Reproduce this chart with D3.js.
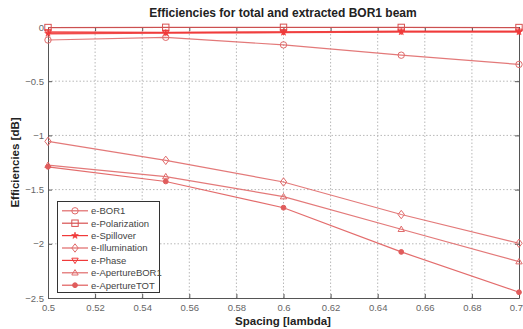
<!DOCTYPE html>
<html>
<head>
<meta charset="utf-8">
<script src="https://cdn.jsdelivr.net/npm/d3@7"></script>
<style>
  html, body { margin: 0; padding: 0; background: #fff; }
  svg { display: block; font-family: "Liberation Sans", Arial, sans-serif; }
</style>
</head>
<body>
<svg id="chart" width="523" height="329"></svg>
<script>
// Antenna element spacing (wavelengths) and efficiency curves in dB
const spacing = [0.5, 0.55, 0.6, 0.65, 0.7];
const seriesNames = ["e-BOR1", "e-Polarization", "e-Spillover", "e-Illumination", "e-Phase", "e-ApertureBOR1", "e-ApertureTOT"];
const eBOR1         = [-0.12, -0.095, -0.165, -0.26, -0.345];
const ePolarization = [-0.005, -0.003, -0.003, -0.004, -0.005];
const eSpillover    = [-0.06, -0.055, -0.05, -0.045, -0.045];
const eIllumination = [-1.055, -1.23, -1.43, -1.73, -1.995];
const ePhase        = [-0.045, -0.05, -0.045, -0.04, -0.04];
const eApertureBOR1 = [-1.275, -1.38, -1.565, -1.866, -2.165];
const eApertureTOT  = [-1.29, -1.425, -1.667, -2.075, -2.447];
const xTicks = [0.5, 0.52, 0.54, 0.56, 0.58, 0.6, 0.62, 0.64, 0.66, 0.68, 0.7];
const yTicks = [0, -0.5, -1, -1.5, -2, -2.5];

const seriesValues = [eBOR1, ePolarization, eSpillover, eIllumination, ePhase, eApertureBOR1, eApertureTOT];
const markers = ["circle", "square", "star", "diamond", "tridown", "triup", "dot"];
const colors = ["#e06a6a", "#d85050", "#f03a3a", "#e06a6a", "#f03a3a", "#e06a6a", "#e05c5c"];
const widths = [1.2, 1.3, 1.8, 1.2, 1.5, 1.2, 1.2];

const svg = d3.select("#chart");
const m = { left: 48, right: 4, top: 27, bottom: 31 };
const W = 523, H = 329;
const x = d3.scaleLinear().domain([0.5, 0.7]).range([m.left, W - m.right]);
const y = d3.scaleLinear().domain([-2.5, 0]).range([H - m.bottom, m.top]);

// dotted grid
const grid = svg.append("g").attr("stroke", "#b8b8b8").attr("stroke-dasharray", "1.5,2").attr("stroke-width", 1);
xTicks.slice(1, -1).forEach(t => grid.append("line").attr("x1", x(t)).attr("x2", x(t)).attr("y1", y(-2.5)).attr("y2", y(0)));
yTicks.slice(1, -1).forEach(t => grid.append("line").attr("x1", x(0.5)).attr("x2", x(0.7)).attr("y1", y(t)).attr("y2", y(t)));

// axes with inward ticks
const fmt = d => d3.format("~g")(d);
const xAxis = svg.append("g").attr("transform", `translate(0,${y(-2.5)})`)
  .call(d3.axisBottom(x).tickValues(xTicks).tickFormat(fmt).tickSizeInner(-4).tickSizeOuter(0).tickPadding(6));
svg.append("g").attr("transform", `translate(${x(0.5)},0)`)
  .call(d3.axisLeft(y).tickValues(yTicks).tickFormat(fmt).tickSizeInner(-4).tickSizeOuter(0).tickPadding(4));
svg.append("g").attr("transform", `translate(0,${y(0)})`)
  .call(d3.axisTop(x).tickValues(xTicks).tickFormat("").tickSizeInner(-4).tickSizeOuter(0));
svg.append("g").attr("transform", `translate(${x(0.7)},0)`)
  .call(d3.axisRight(y).tickValues(yTicks).tickFormat("").tickSizeInner(-4).tickSizeOuter(0));
svg.selectAll(".domain").attr("stroke", "#555");
svg.selectAll(".tick line").attr("stroke", "#555");
svg.selectAll(".tick text").attr("fill", "#666").attr("font-size", 9.5);
// keep the last x label inside the page edge
xAxis.selectAll(".tick").filter(d => d === 0.7).select("text").attr("text-anchor", "end").attr("dx", 3.5);

// marker drawing
function drawMarker(g, type, cx, cy, color) {
  const s = 3.2;
  if (type === "circle") g.append("circle").attr("cx", cx).attr("cy", cy).attr("r", s).attr("fill", "none").attr("stroke", color);
  else if (type === "square") g.append("rect").attr("x", cx - s).attr("y", cy - s).attr("width", 2 * s).attr("height", 2 * s).attr("fill", "none").attr("stroke", color);
  else if (type === "diamond") g.append("path").attr("d", `M${cx},${cy - s - 1}L${cx + s},${cy}L${cx},${cy + s + 1}L${cx - s},${cy}Z`).attr("fill", "none").attr("stroke", color);
  else if (type === "tridown") g.append("path").attr("d", `M${cx - s},${cy - s + 1}L${cx + s},${cy - s + 1}L${cx},${cy + s}Z`).attr("fill", "none").attr("stroke", color);
  else if (type === "triup") g.append("path").attr("d", `M${cx - s},${cy + s - 1}L${cx + s},${cy + s - 1}L${cx},${cy - s}Z`).attr("fill", "none").attr("stroke", color);
  else if (type === "star") g.append("path").attr("d", d3.symbol().type(d3.symbolStar).size(14)()).attr("transform", `translate(${cx},${cy})`).attr("fill", color).attr("stroke", color).attr("stroke-width", 0.6);
  else if (type === "dot") g.append("circle").attr("cx", cx).attr("cy", cy).attr("r", 2.4).attr("fill", color).attr("stroke", color);
}

// data lines
const line = d3.line().x((d, i) => x(spacing[i])).y(d => y(d));
const plot = svg.append("g");
seriesValues.forEach((vals, k) => {
  plot.append("path").datum(vals).attr("d", line).attr("fill", "none")
    .attr("stroke", colors[k]).attr("stroke-width", widths[k]).attr("stroke-opacity", 0.9);
  const mg = plot.append("g").attr("stroke-width", 1);
  vals.forEach((v, i) => drawMarker(mg, markers[k], x(spacing[i]), y(v), colors[k]));
});

// legend
const lg = svg.append("g");
lg.append("rect").attr("x", 57.5).attr("y", 201.5).attr("width", 102).attr("height", 91)
  .attr("fill", "#fff").attr("stroke", "#333").attr("stroke-width", 1);
seriesNames.forEach((name, k) => {
  const ly = 210.8 + k * 12.4;
  lg.append("line").attr("x1", 62).attr("x2", 88).attr("y1", ly).attr("y2", ly).attr("stroke", colors[k]).attr("stroke-width", 1.2);
  drawMarker(lg, markers[k], 75, ly, colors[k]);
  lg.append("text").attr("x", 91).attr("y", ly + 3.4).attr("font-size", 9.5).attr("fill", "#444").text(name);
});

// titles
svg.append("text").attr("x", 283).attr("y", 17).attr("text-anchor", "middle")
  .attr("font-size", 12).attr("font-weight", "bold").attr("fill", "#222").text("Efficiencies for total and extracted BOR1 beam");
svg.append("text").attr("x", 283).attr("y", 325).attr("text-anchor", "middle")
  .attr("font-size", 11.5).attr("font-weight", "bold").attr("fill", "#222").text("Spacing [lambda]");
svg.append("text").attr("transform", `translate(19,${(y(0) + y(-2.5)) / 2}) rotate(-90)`).attr("text-anchor", "middle")
  .attr("font-size", 11.5).attr("font-weight", "bold").attr("fill", "#222").text("Efficiencies [dB]");
</script>
</body>
</html>
